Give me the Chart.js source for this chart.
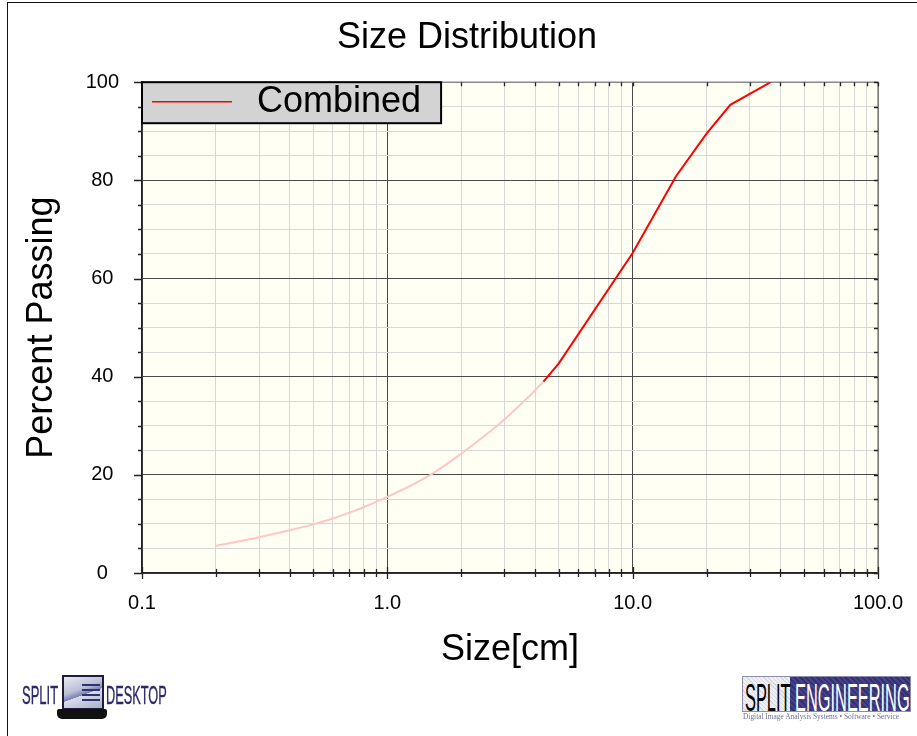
<!DOCTYPE html>
<html>
<head>
<meta charset="utf-8">
<title>Size Distribution</title>
<script src="https://cdn.jsdelivr.net/npm/chart.js@4.4.1/dist/chart.umd.min.js"></script>
<style>
  html, body { margin: 0; padding: 0; width: 917px; height: 736px; overflow: hidden; background: #fff; }
  #frame { position: absolute; left: 7px; top: 2px; width: 1000px; height: 1000px;
           border-top: 1px solid #111; border-left: 1px solid #111; }
  #chartBox { position: absolute; left: 0; top: 0; width: 934px; height: 736px; }
  .cond { position: absolute; white-space: nowrap; transform-origin: 0 0; font-family: "Liberation Sans", Arial, sans-serif; line-height: 1; }
  /* desktop product mark */
  #sdSplit { left: 22px; top: 683px; font-size: 25px; color: #2a2a6a; transform: scaleX(0.52); -webkit-text-stroke: 0.4px #2a2a6a; }
  #sdDesk  { left: 106px; top: 683px; font-size: 25px; color: #2a2a6a; transform: scaleX(0.51); -webkit-text-stroke: 0.4px #2a2a6a; }
  #lapScreen { position: absolute; left: 62px; top: 675px; width: 38px; height: 31px;
               border: 2px solid #1d1d3a;
               background: linear-gradient(160deg, #e8eaf2 0%, #b9bfd8 40%, #7a80b0 55%, #d9dcea 56%, #aab0cc 100%); }
  #lapLines { position: absolute; left: 82px; top: 684px; width: 18px; height: 20px;
              background: repeating-linear-gradient(180deg, #2f3470 0 2px, transparent 2px 5px); }
  #lapBase { position: absolute; left: 57px; top: 709px; width: 50px; height: 10px;
             background: #111; border-radius: 2px 2px 5px 5px; }
  /* engineering mark */
  #seBox { position: absolute; left: 742px; top: 676px; width: 167px; height: 34px; border: 1px solid #8c8cae; overflow: hidden; }
  #seLeft { position: absolute; left: 0; top: 0; width: 47px; height: 34px;
            background: repeating-linear-gradient(45deg, #f0f0f4 0 2px, #d8d8e2 2px 3px); }
  #seRight { position: absolute; left: 47px; top: 0; width: 120px; height: 34px;
             background: repeating-linear-gradient(45deg, #45418a 0 2px, #353170 2px 4px); }
  #seSplit { left: 2px; top: 1px; font-size: 39px; color: #000; transform: scaleX(0.42); }
  #seEng { left: 52px; top: 1px; font-size: 39px; color: #fff; transform: scaleX(0.42); }
  #seTag { position: absolute; left: 743px; top: 712px; width: 170px; font-family: "Liberation Serif", serif;
           font-size: 7.4px; color: #6f6f92; white-space: nowrap; }
</style>
</head>
<body>
<div id="frame"></div>
<div id="chartBox"><canvas id="chart" width="934" height="736" style="width:934px;height:736px"></canvas></div>

<div class="cond" id="sdSplit">SPLIT</div>
<div id="lapScreen"></div>
<div id="lapLines"></div>
<div id="lapBase"></div>
<div class="cond" id="sdDesk">DESKTOP</div>

<div id="seBox">
  <div id="seLeft"></div>
  <div id="seRight"></div>
  <div class="cond" id="seSplit">SPLIT</div>
  <div class="cond" id="seEng">ENGINEERING</div>
</div>
<div id="seTag">Digital Image Analysis Systems • Software • Service</div>

<script>
// Measured gradation: size in cm against cumulative percent passing
const combinedSizes   = [4.33, 5.0, 10.0, 15.0, 20.0, 25.0, 36.5];
const combinedPassing = [39.0, 42.7, 65.2, 80.8, 89.5, 95.4, 100.0];

// Fines portion of the curve, below the measured range
const finesSizes   = [0.2, 0.3, 0.4, 0.5, 0.6, 0.7, 0.8, 0.9, 1.0, 1.5, 2.0, 2.5, 3.0, 3.5, 4.0, 4.33];
const finesPassing = [5.5, 7.3, 8.7, 9.9, 11.1, 12.3, 13.4, 14.5, 15.5, 20.0, 24.3, 28.0, 31.3, 34.4, 37.2, 39.0];

// Axis ticks
const xMajorTicks  = [0.1, 1, 10, 100];
const xMajorLabels = ['0.1', '1.0', '10.0', '100.0'];
const xMinorSteps  = [2, 3, 4, 5, 6, 7, 8, 9];
const yMajorTicks  = [0, 20, 40, 60, 80, 100];
const yMinorStep   = 5;

const FONT = '"Liberation Sans", Arial, Helvetica, sans-serif';
Chart.defaults.font.family = FONT;
Chart.defaults.color = '#000';

const xTickValues = [];
xMajorTicks.forEach((d, i) => {
  xTickValues.push(d);
  if (i < xMajorTicks.length - 1) xMinorSteps.forEach(m => xTickValues.push(+(d * m).toPrecision(6)));
});

const isDecade = v => Math.abs(Math.log10(v) - Math.round(Math.log10(v))) < 1e-6;
const isYMajor = v => yMajorTicks.includes(v);

const toPoints = (xs, ys) => xs.map((x, i) => ({ x: x, y: ys[i] }));

const MAJOR_GRID = '#4a4a4a';
const MINOR_GRID = '#d7d7d7';

// Plot background, frame edges, tick marks and the boxed legend
const plotDecor = {
  id: 'plotDecor',
  beforeDraw(chart) {
    const { ctx, chartArea: a } = chart;
    ctx.save();
    ctx.fillStyle = '#fffff3';
    ctx.fillRect(a.left, a.top, a.right - a.left, a.bottom - a.top);
    ctx.restore();
  },
  beforeDatasetsDraw(chart) {
    const { ctx, chartArea: a, scales } = chart;
    ctx.save();
    // top and right edges
    ctx.strokeStyle = '#8a8a8a';
    ctx.lineWidth = 1.5;
    ctx.beginPath();
    ctx.moveTo(a.left, a.top); ctx.lineTo(a.right, a.top); ctx.lineTo(a.right, a.bottom);
    ctx.stroke();

    // tick marks
    ctx.strokeStyle = '#222';
    ctx.lineWidth = 1.3;
    ctx.beginPath();
    scales.x.ticks.forEach(t => {
      const px = Math.round(scales.x.getPixelForValue(t.value)) + 0.5;
      const major = isDecade(t.value);
      const len = major ? 6 : 4;
      ctx.moveTo(px, a.bottom - len); ctx.lineTo(px, a.bottom + len);
      ctx.moveTo(px, a.top); ctx.lineTo(px, a.top + 4);
    });
    scales.y.ticks.forEach(t => {
      const py = Math.round(scales.y.getPixelForValue(t.value)) + 0.5;
      const len = isYMajor(t.value) ? 8 : 4;
      ctx.moveTo(a.left - len, py); ctx.lineTo(a.left, py);
      ctx.moveTo(a.right - 4, py); ctx.lineTo(a.right, py);
    });
    ctx.stroke();

    // legend
    const ds = chart.data.datasets[0];
    ctx.font = '36px ' + FONT;
    const tw = ctx.measureText(ds.label).width;
    const x0 = a.left, y0 = a.top, w = 115 + tw + 20, h = 41;
    ctx.fillStyle = '#d3d3d3';
    ctx.fillRect(x0, y0, w, h);
    ctx.lineWidth = 2;
    ctx.strokeStyle = '#000';
    ctx.strokeRect(x0, y0, w, h);
    ctx.strokeStyle = ds.borderColor;
    ctx.lineWidth = 1.5;
    ctx.beginPath();
    ctx.moveTo(x0 + 10, y0 + 19.5); ctx.lineTo(x0 + 90, y0 + 19.5);
    ctx.stroke();
    ctx.fillStyle = '#000';
    ctx.textBaseline = 'middle';
    ctx.textAlign = 'left';
    ctx.fillText(ds.label, x0 + 115, y0 + 20);
    ctx.restore();
  }
};

new Chart(document.getElementById('chart'), {
  type: 'scatter',
  data: {
    datasets: [
      {
        label: 'Combined',
        data: toPoints(combinedSizes, combinedPassing),
        showLine: true,
        borderColor: '#ff0000',
        borderWidth: 2,
        pointRadius: 0,
        tension: 0,
        order: 0
      },
      {
        label: 'Fines',
        data: toPoints(finesSizes, finesPassing),
        showLine: true,
        borderColor: '#ffc6c6',
        borderWidth: 2,
        pointRadius: 0,
        cubicInterpolationMode: 'monotone',
        order: 1
      }
    ]
  },
  options: {
    responsive: false,
    devicePixelRatio: 1,
    animation: false,
    events: [],
    layout: { padding: { left: 0, right: 0, top: 0, bottom: 63 } },
    plugins: {
      legend: { display: false },
      tooltip: { enabled: false },
      title: {
        display: true,
        text: 'Size Distribution',
        color: '#000',
        font: { family: FONT, size: 36, weight: 'normal' },
        padding: { top: 16, bottom: 23 }
      }
    },
    scales: {
      x: {
        type: 'logarithmic',
        position: 'bottom',
        min: 0.1,
        max: 100,
        afterBuildTicks: s => { s.ticks = xTickValues.map(v => ({ value: v })); },
        afterFit: s => { s.height = 100; },
        ticks: {
          autoSkip: false,
          maxRotation: 0,
          minRotation: 0,
          padding: 18,
          color: '#000',
          font: { size: 20 },
          callback: v => {
            const i = xMajorTicks.findIndex(d => Math.abs(d - v) < 1e-9);
            return i >= 0 ? xMajorLabels[i] : '';
          }
        },
        grid: {
          drawTicks: false,
          lineWidth: 1,
          color: c => (c.tick && isDecade(c.tick.value)) ? MAJOR_GRID : MINOR_GRID
        },
        border: { display: true, color: '#222', width: 1.5 },
        title: {
          display: true,
          text: 'Size[cm]',
          color: '#000',
          font: { size: 36 },
          padding: { top: 0, bottom: 1 }
        }
      },
      y: {
        type: 'linear',
        position: 'left',
        min: 0,
        max: 100,
        afterFit: s => { s.width = 142; },
        ticks: {
          stepSize: yMinorStep,
          autoSkip: false,
          crossAlign: 'center',
          padding: 23,
          color: '#000',
          font: { size: 20 },
          callback: v => isYMajor(v) ? String(v) : ''
        },
        grid: {
          drawTicks: false,
          lineWidth: 1,
          color: c => (c.tick && isYMajor(c.tick.value)) ? MAJOR_GRID : MINOR_GRID
        },
        border: { display: true, color: '#222', width: 1.5 },
        title: {
          display: true,
          text: 'Percent Passing',
          color: '#000',
          font: { size: 36 },
          padding: { top: 20, bottom: 0 }
        }
      },
      y2: {
        type: 'linear',
        position: 'right',
        min: 0,
        max: 100,
        afterFit: s => { s.width = 56; },
        ticks: { display: false },
        grid: { display: false, drawTicks: false },
        border: { display: false }
      }
    }
  },
  plugins: [plotDecor]
});
</script>
</body>
</html>
